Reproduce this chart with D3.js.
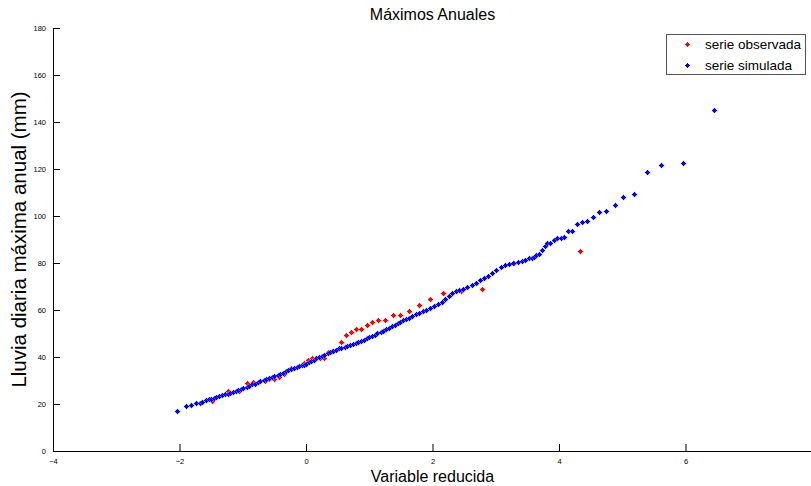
<!DOCTYPE html>
<html>
<head>
<meta charset="utf-8">
<script src="https://cdn.jsdelivr.net/npm/d3@7"></script>
<style>
  body { margin:0; background:#fff; }
  svg { display:block; font-family:"Liberation Sans", Arial, Helvetica, sans-serif; }
</style>
</head>
<body>
<div id="plot"></div>
<script>
// reduced variable (x) and annual max daily rain (y)
var obsX = [-1.48,-1.23,-1.06,-0.93,-0.84,-0.65,-0.58,-0.51,-0.43,-0.35,-0.24,-0.03,0.03,0.09,0.16,0.22,0.28,0.35,0.41,
            0.55,0.63,0.71,0.79,0.87,0.96,1.04,1.14,1.25,1.37,1.49,1.63,1.79,1.96,2.16,2.45,2.78,3.29,4.33];
var obsY = [21.3,25.5,25.5,28.9,29.4,29.8,30.6,30.6,31.5,32.8,35.3,37.4,38.7,39.6,39.6,39.6,39.6,42.1,42.6,
            46.4,49.4,50.6,51.9,51.9,53.6,54.9,55.7,55.7,57.9,57.9,59.6,62.1,64.7,67.2,68.1,68.9,80.0,85.1];

var simX = [-2.04,-1.90,-1.82,-1.74,-1.67,-1.64,
  -1.58,-1.54,-1.50,-1.46,-1.42,-1.37,-1.33,-1.28,-1.24,-1.20,-1.15,-1.11,-1.07,-1.03,-0.99,-0.94,-0.90,-0.85,
  -0.81,-0.76,-0.72,-0.67,-0.63,-0.58,-0.54,-0.50,-0.45,-0.41,-0.37,-0.32,-0.28,-0.24,-0.19,-0.15,-0.11,-0.07,-0.03,
  0.00,0.04,0.08,0.12,0.16,0.21,0.25,0.29,0.34,0.38,0.43,0.47,0.52,0.56,0.61,0.65,0.70,0.74,0.79,0.83,0.87,0.91,
  0.96,1.00,1.04,1.09,1.13,1.18,1.22,1.27,1.31,1.36,1.40,1.45,1.49,1.54,1.58,1.63,1.68,1.74,1.79,1.85,1.90,1.96,
  2.02,2.08,2.15,2.20,2.26,2.31,2.37,2.42,2.48,2.55,2.62,2.69,2.75,2.82,2.88,2.94,3.01,3.08,3.14,3.21,3.28,3.35,
  3.41,3.47,3.52,3.57,3.60,3.63,3.68,3.73,3.78,3.81,3.85,3.92,3.97,4.03,4.08,4.15,4.20,4.28,4.36,4.44,4.53,4.63,
  4.74,4.88,5.01,5.18,5.39,5.62,5.96,6.45];
var simY = [17.0,19.1,19.6,20.4,20.4,20.9,
  21.7,22.0,22.2,22.6,22.9,23.4,23.7,24.1,24.4,24.8,25.2,25.5,25.9,26.3,26.7,27.2,27.8,28.3,
  28.7,29.2,29.6,30.1,30.5,31.0,31.4,31.9,32.3,32.8,33.3,33.9,34.3,34.7,35.2,35.6,36.0,36.4,36.8,
  37.2,37.7,38.3,38.8,39.4,40.0,40.6,41.0,41.5,42.0,42.6,43.1,43.7,44.0,44.4,44.8,45.2,45.6,46.0,46.4,46.9,47.4,
  47.9,48.4,48.9,49.5,50.1,50.6,51.2,51.8,52.3,53.0,53.6,54.3,54.9,55.6,56.2,56.8,57.4,58.1,58.7,59.4,60.0,60.8,
  61.6,62.4,63.4,64.6,66.0,67.2,67.9,68.5,69.1,69.9,70.7,71.5,72.6,73.6,74.6,75.7,77.1,78.3,79.0,79.6,80.1,80.5,
  80.9,81.4,82.1,82.1,82.6,83.4,83.8,85.5,87.2,88.5,88.5,89.8,90.6,90.6,91.1,93.6,93.6,96.6,97.4,97.9,99.6,101.7,
  102.1,104.7,108.1,109.4,118.7,121.7,122.6,145.1];

var xTicks = [-4,-2,0,2,4,6];
var yTicks = [0,20,40,60,80,100,120,140,160,180];
var seriesNames = ['serie observada','serie simulada'];
var seriesColors = ['#ff0000','#0000ff'];
var haloColors = ['#ff9a9a','#9a9aff'];

var W = 811, H = 486;
var margin = {t:28, r:-1, b:35, l:53};
var width = W - margin.l - margin.r,
    height = H - margin.t - margin.b;

var svg = d3.select('#plot').append('svg')
    .attr('width', W)
    .attr('height', H);

var plot = svg.append('g')
    .attr('transform', 'translate(' + margin.l + ',' + margin.t + ')');

var x = d3.scaleLinear().domain([-4, 8]).range([0, width]);
var y = d3.scaleLinear().domain([0, 180]).range([height, 0]);

// matlab style: ticks point inward, no box
var xAxis = d3.axisBottom(x).tickValues(xTicks).tickSize(-7).tickPadding(8).tickSizeOuter(0);
var yAxis = d3.axisLeft(y).tickValues(yTicks).tickSize(-7).tickPadding(7).tickSizeOuter(0);

plot.append('g')
    .attr('transform', 'translate(0,' + height + ')')
    .call(xAxis);
plot.append('g').call(yAxis);

plot.selectAll('.domain, .tick line').attr('stroke', '#000');
plot.selectAll('.tick text').attr('font-size', '7.5px').attr('fill', '#000')
    .attr('font-family', '"Liberation Sans", Arial, sans-serif');

// marker: small pixel plus/diamond, like the rasterised matlab dots
var dot = 'M-0.5,-2.5h1v1h1v1h1v1h-1v1h-1v1h-1v-1h-1v-1h-1v-1h1v-1h1z';
function px(v) { return Math.round(v) + 0.5; }

function drawSeries(cls, xs, ys, k) {
    plot.selectAll('.' + cls)
        .data(d3.range(xs.length))
        .enter().append('path')
        .attr('class', cls)
        .attr('d', dot)
        .attr('fill', seriesColors[k])
        .attr('stroke', haloColors[k])
        .attr('stroke-width', 1)
        .attr('stroke-opacity', 0.6)
        .attr('paint-order', 'stroke')
        .attr('transform', function (i) { return 'translate(' + px(x(xs[i])) + ',' + px(y(ys[i])) + ')'; });
}
drawSeries('obs', obsX, obsY, 0);
drawSeries('sim', simX, simY, 1);

// titles
svg.append('text')
    .attr('x', margin.l + width / 2).attr('y', 20)
    .attr('text-anchor', 'middle').attr('font-size', '16px')
    .text('Máximos Anuales');
svg.append('text')
    .attr('x', margin.l + width / 2).attr('y', 482)
    .attr('text-anchor', 'middle').attr('font-size', '16px')
    .text('Variable reducida');
svg.append('text')
    .attr('transform', 'translate(26,' + (margin.t + height / 2) + ') rotate(-90)')
    .attr('text-anchor', 'middle').attr('font-size', '20.5px')
    .text('Lluvia diaria máxima anual (mm)');

// legend
var leg = svg.append('g').attr('transform', 'translate(666,34)');
leg.append('rect')
    .attr('x', 0.5).attr('y', 0.5).attr('width', 139).attr('height', 40)
    .attr('fill', '#fff').attr('stroke', '#555');
seriesNames.forEach(function (name, i) {
    var row = leg.append('g').attr('transform', 'translate(0,' + (10 + i * 21) + ')');
    row.append('path').attr('d', dot).attr('fill', seriesColors[i])
        .attr('transform', 'translate(21.5,0.5)');
    row.append('text').attr('x', 39).attr('y', 5)
        .attr('font-size', '13.5px').text(name);
});
</script>
</body>
</html>
